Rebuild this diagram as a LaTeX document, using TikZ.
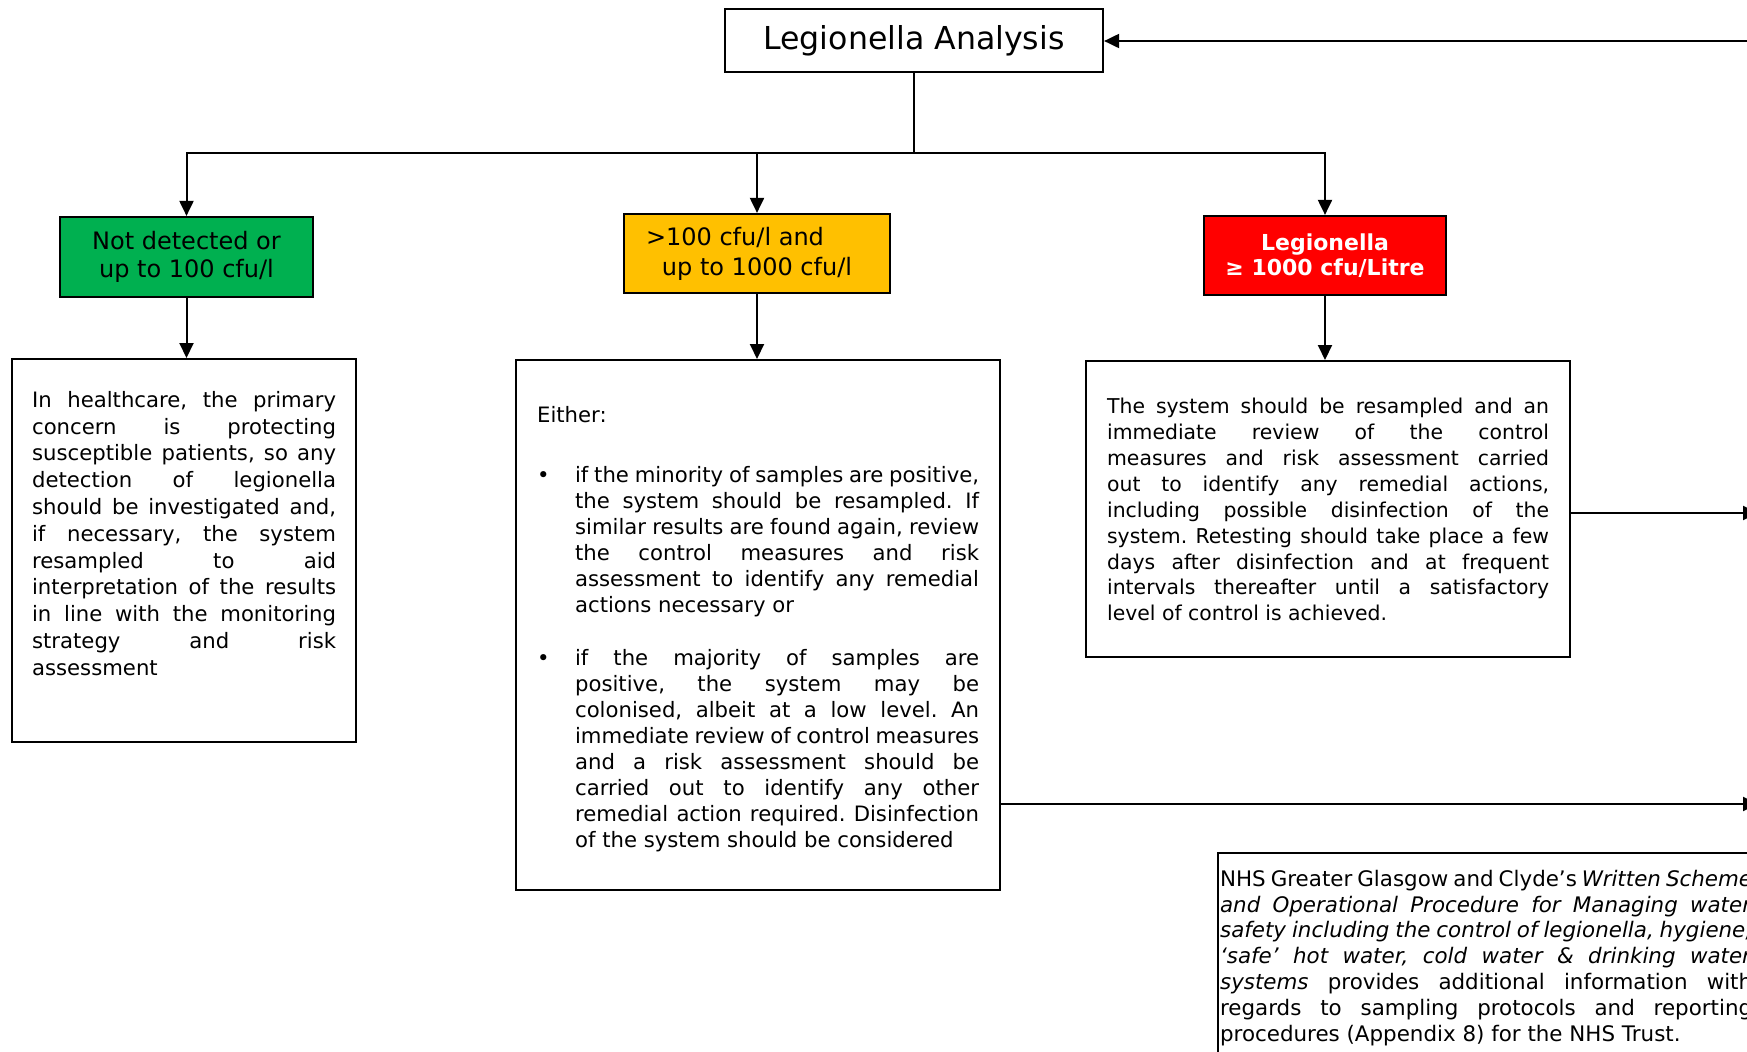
\documentclass[tikz,border=0pt]{standalone}
\usepackage{fontspec}
\setmainfont{DejaVu Sans}
\usetikzlibrary{arrows.meta}
\frenchspacing

\definecolor{okgreen}{HTML}{00B050}
\definecolor{warnamber}{HTML}{FFC000}
\definecolor{alertred}{HTML}{FF0000}

\newcommand{\bodyfont}{\fontsize{10.6}{13.05}\selectfont}
\newcommand{\bulletpar}{\noindent\hangindent=19pt\hangafter=1\makebox[19pt][l]{\textbullet}}

\tikzset{
  level/.style={draw, line width=1.1pt, align=center, inner sep=0pt},
  panel/.style={draw, line width=1.1pt, anchor=north west, inner ysep=0pt},
  wire/.style={line width=1pt},
  link/.style={line width=1pt, -{Triangle[length=7.5pt,width=7pt]}},
}

\begin{document}
\begin{tikzpicture}[x=0.5pt, y=-0.5pt]
  \useasboundingbox (0,0) rectangle (1747,1051);
  \clip (0,0) rectangle (1747,1051);

  % result levels
  \node[level, minimum width=189pt, minimum height=31.5pt, font=\fontsize{15.8}{19}\selectfont]
    (title) at (914,40.5) {\raisebox{-1.5pt}{Legionella Analysis}};
  \node[level, fill=okgreen, minimum width=126.5pt, minimum height=40pt, font=\fontsize{12}{14}\selectfont]
    (low) at (186.5,257) {Not detected or\\up to 100 cfu/l};
  \node[level, fill=warnamber, minimum width=133pt, minimum height=39.5pt, font=\fontsize{12}{15}\selectfont]
    (mid) at (757,253.5) {\raisebox{-2pt}{>100 cfu/l and\hspace*{22pt}}\\\raisebox{-2pt}{up to 1000 cfu/l}};
  \node[level, fill=alertred, text=white, minimum width=121pt, minimum height=39.5pt, font=\bfseries\fontsize{11}{12.8}\selectfont]
    (high) at (1325,255.5) {Legionella\\≥ 1000 cfu/Litre};

  % actions
  \node[panel, inner xsep=10pt] (lbox) at (11,358) {\parbox[t][191.5pt][t]{152pt}{\fontsize{10.6}{13.4}\selectfont
    \hyphenpenalty=10000 \tolerance=10000 \vspace*{16pt}%
    In healthcare, the primary\linebreak concern is protecting\linebreak
    susceptible patients, so any\linebreak detection of legionella\linebreak
    should be investigated and,\linebreak if necessary, the system\linebreak
    resampled to aid\linebreak interpretation of the results\linebreak
    in line with the monitoring\linebreak strategy and risk\linebreak assessment}};

  \node[panel, inner xsep=10.5pt] (mbox) at (515,359) {\parbox[t][265pt][t]{221pt}{\bodyfont
    \hyphenpenalty=10000 \tolerance=10000 \vspace*{23pt}%
    Either:\par\vspace{17pt}
    \bulletpar if the minority of samples are positive,\linebreak
    the system should be resampled. If\linebreak
    similar results are found again, review\linebreak
    the control measures and risk\linebreak
    assessment to identify any remedial\linebreak
    actions necessary or\par\vspace{13.1pt}
    \bulletpar if the majority of samples are\linebreak
    positive, the system may be\linebreak
    colonised, albeit at a low level. An\linebreak
    immediate review of control measures\linebreak
    and a risk assessment should be\linebreak
    carried out to identify any other\linebreak
    remedial action required. Disinfection\linebreak
    of the system should be considered}};

  \node[panel, inner xsep=10.5pt] (rbox) at (1085,360) {\parbox[t][148pt][t]{221pt}{\fontsize{10.2}{12.95}\selectfont
    \hyphenpenalty=10000 \tolerance=10000 \vspace*{18.5pt}%
    The system should be resampled and an\linebreak
    immediate review of the control\linebreak
    measures and risk assessment carried\linebreak
    out to identify any remedial actions,\linebreak
    including possible disinfection of the\linebreak
    system. Retesting should take place a few\linebreak
    days after disinfection and at frequent\linebreak
    intervals thereafter until a satisfactory\linebreak
    level of control is achieved.}};

  \node[panel, inner xsep=1pt] (note) at (1217,852) {\parbox[t][109pt][t]{266pt}{\fontsize{10.7}{12.9}\selectfont
    \hyphenpenalty=10000 \tolerance=10000 \vspace*{8.5pt}%
    NHS Greater Glasgow and Clyde’s \textit{Written Scheme}\linebreak
    \textit{and Operational Procedure for Managing water}\linebreak
    \textit{safety including the control of legionella, hygiene,}\linebreak
    \textit{‘safe’ hot water, cold water \& drinking water}\linebreak
    \textit{systems} provides additional information with\linebreak
    regards to sampling protocols and reporting\linebreak
    procedures (Appendix 8) for the NHS Trust.}};

  % connectors
  \coordinate (bar) at (914,153);
  \coordinate (loopin) at (1760,41);
  \coordinate (exitr) at (1758,513);
  \coordinate (exitm) at (1758,804);

  \draw[wire] (title.south) -- (bar);
  \draw[link] (bar) -| (low.north);
  \draw[link] (bar) -| (mid.north);
  \draw[link] (bar) -| (high.north);

  \draw[link] (low.south) -- (low.south |- lbox.north);
  \draw[link] (mid.south) -- (mid.south |- mbox.north);
  \draw[link] (high.south) -- (high.south |- rbox.north);

  \draw[link] (loopin) -- (loopin -| title.east);
  \draw[link] (rbox.east |- exitr) -- (exitr);
  \draw[link] (mbox.east |- exitm) -- (exitm);
\end{tikzpicture}
\end{document}
